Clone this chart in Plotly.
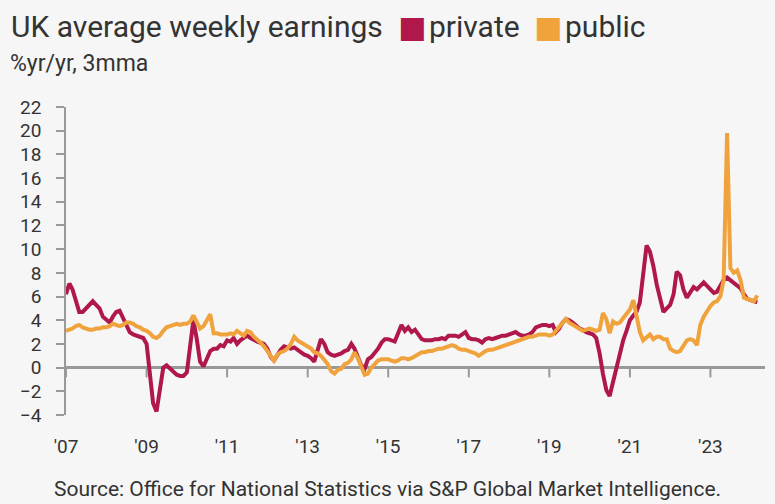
import plotly.graph_objects as go
import pandas as pd

# Monthly, Jan 2007 .. Mar 2024 (% yr/yr 3mma)
private = [
    # 2007
    6.2, 7.1, 6.6, 5.7, 4.7, 4.7, 5.0, 5.4, 5.6, 5.3, 5.0, 4.3,
    # 2008
    4.0, 3.8, 4.3, 4.7, 4.8, 4.2, 3.6, 3.0, 2.8, 2.7, 2.6, 2.5,
    # 2009
    2.0, -0.5, -3.0, -3.7, -2.0, 0.0, 0.2, -0.1, -0.4, -0.6, -0.7, -0.7,
    # 2010
    -0.4, 1.6, 4.0, 2.4, 0.5, 0.1, 0.8, 1.4, 1.6, 1.6, 1.9, 1.8,
    # 2011
    2.3, 2.2, 2.5, 2.0, 2.3, 2.5, 2.7, 2.5, 2.3, 2.2, 2.1, 2.0,
    # 2012
    1.6, 0.9, 0.6, 1.1, 1.5, 1.8, 1.7, 1.6, 1.7, 1.5, 1.3, 1.1,
    # 2013
    1.0, 0.8, 0.5, 1.6, 2.4, 2.0, 1.3, 1.1, 1.0, 1.1, 1.2, 1.4,
    # 2014
    1.5, 2.0, 1.6, 0.9, 0.2, -0.1, 0.7, 0.9, 1.2, 1.6, 2.1, 2.4,
    # 2015
    2.4, 2.3, 2.2, 2.9, 3.6, 3.1, 3.4, 3.0, 3.2, 2.8, 2.4, 2.3,
    # 2016
    2.3, 2.3, 2.4, 2.4, 2.5, 2.4, 2.7, 2.7, 2.7, 2.6, 2.8, 3.0,
    # 2017
    2.5, 2.4, 2.4, 2.3, 2.1, 2.4, 2.5, 2.4, 2.5, 2.6, 2.7, 2.7,
    # 2018
    2.8, 2.9, 3.0, 2.8, 2.7, 2.7, 2.8, 3.0, 3.4, 3.5, 3.6, 3.6,
    # 2019
    3.5, 3.6, 3.0, 3.3, 3.8, 4.1, 4.0, 3.8, 3.5, 3.3, 3.2, 3.0,
    # 2020
    2.9, 2.8, 2.5, 1.2, -0.5, -1.9, -2.4, -1.2, 0.1, 1.4, 2.3, 3.1,
    # 2021
    4.0, 4.4, 4.7, 5.5, 8.0, 10.3, 9.8, 8.6, 7.0, 5.8, 4.7, 5.0,
    # 2022
    5.3, 6.2, 8.1, 7.8, 6.6, 5.9, 6.4, 6.8, 6.6, 6.9, 7.2, 6.9,
    # 2023
    6.6, 6.3, 6.4, 7.0, 7.4, 7.6, 7.4, 7.2, 7.0, 6.7, 6.2, 5.8,
    # 2024
    5.7, 5.6, 5.5,
]

public = [
    # 2007
    3.1, 3.2, 3.3, 3.5, 3.6, 3.4, 3.3, 3.2, 3.2, 3.3, 3.3, 3.4,
    # 2008
    3.4, 3.5, 3.7, 3.6, 3.5, 3.6, 3.8, 3.8, 3.7, 3.5, 3.4, 3.2,
    # 2009
    3.1, 2.9, 2.6, 2.5, 2.7, 3.1, 3.4, 3.5, 3.6, 3.7, 3.6, 3.7,
    # 2010
    3.7, 3.9, 4.4, 3.9, 3.3, 3.5, 4.0, 4.5, 2.9, 2.9, 2.8, 2.8,
    # 2011
    2.8, 2.9, 2.8, 3.1, 2.9, 2.7, 3.1, 3.0, 2.6, 2.4, 2.1, 1.8,
    # 2012
    1.4, 0.9, 0.6, 1.1, 1.3, 1.4, 1.6, 2.0, 2.6, 2.3, 2.1, 2.0,
    # 2013
    1.8, 1.6, 1.3, 1.2, 1.0, 0.7, 0.3, -0.3, -0.5, -0.2, -0.1, 0.3,
    # 2014
    0.4, 0.7, 1.3, 0.8, 0.0, -0.6, -0.5, 0.0, 0.3, 0.6, 0.7, 0.7,
    # 2015
    0.7, 0.6, 0.5, 0.6, 0.8, 0.8, 0.7, 0.8, 1.0, 1.1, 1.3, 1.3,
    # 2016
    1.4, 1.4, 1.5, 1.6, 1.6, 1.7, 1.8, 1.9, 1.8, 1.6, 1.5, 1.5,
    # 2017
    1.4, 1.3, 1.2, 1.0, 1.2, 1.4, 1.5, 1.5, 1.6, 1.7, 1.8, 1.9,
    # 2018
    2.0, 2.1, 2.2, 2.3, 2.4, 2.5, 2.6, 2.6, 2.7, 2.8, 2.8, 2.8,
    # 2019
    2.7, 2.8, 3.1, 3.4, 3.8, 4.1, 3.8, 3.6, 3.4, 3.2, 3.1, 3.2,
    # 2020
    3.3, 3.2, 3.1, 3.2, 4.6, 4.1, 2.9, 3.9, 3.7, 3.8, 4.2, 4.5,
    # 2021
    4.9, 5.7, 4.4, 3.0, 2.3, 2.6, 2.8, 2.4, 2.6, 2.6, 2.4, 2.4,
    # 2022
    1.6, 1.4, 1.3, 1.4, 1.9, 2.3, 2.4, 2.3, 1.9, 3.6, 4.3, 4.8,
    # 2023
    5.2, 5.5, 5.6, 6.0, 7.4, 19.8, 8.4, 8.0, 8.2, 7.4, 5.9, 5.8,
    # 2024
    5.7, 5.6, 6.1,
]

dates = pd.date_range("2007-01-01", periods=len(private), freq="MS")

tick_years = ["2007", "2009", "2011", "2013", "2015", "2017", "2019", "2021", "2023"]
tick_labels = ["'07", "'09", "'11", "'13", "'15", "'17", "'19", "'21", "'23"]
y_ticks = list(range(-4, 23, 2))
series_names = ["private", "public"]

C_PRIV = "#b0174b"
C_PUB = "#f0a33c"
BG = "#f6f6f6"
TXT = "#333333"
AX = "#999999"
FONT = "Roboto"

tickvals = [f"{y}-01-01" for y in tick_years]
xrange = ["2007-01-01", "2024-05-10"]

fig = go.Figure()
# small tick marks hanging just below the zero line at each labelled year
fig.add_trace(go.Scatter(
    x=tickvals, y=[-0.35] * len(tickvals), mode="markers",
    marker=dict(symbol="line-ns", size=8, color=AX,
                line=dict(color=AX, width=2)),
    showlegend=False, hoverinfo="skip"))
fig.add_trace(go.Scatter(x=dates, y=private, mode="lines", name=series_names[0],
                         line=dict(color=C_PRIV, width=4), showlegend=False))
fig.add_trace(go.Scatter(x=dates, y=public, mode="lines", name=series_names[1],
                         line=dict(color=C_PUB, width=4), showlegend=False))

fig.update_layout(
    width=775, height=504,
    margin=dict(l=66, r=10, t=107, b=89),
    paper_bgcolor=BG, plot_bgcolor=BG,
    font=dict(family=FONT, color=TXT, size=16),
    xaxis=dict(type="date", range=xrange, tickvals=tickvals,
               ticktext=tick_labels,
               showgrid=False, zeroline=False, showline=False, ticks="",
               ticklabelstandoff=18, tickfont=dict(size=19, color=TXT)),
    yaxis=dict(range=[-4, 22], tickvals=y_ticks, showgrid=False,
               zeroline=True, zerolinecolor=AX, zerolinewidth=2.5,
               showline=True, linecolor=AX, linewidth=1.5,
               ticks="outside", ticklen=8, tickwidth=1.5, tickcolor=AX,
               ticklabelstandoff=11, tickfont=dict(size=19, color=TXT)),
)


def px(xp):
    return (xp - 66) / 699


def py(yp):
    return (415 - yp) / 308


fig.add_annotation(
    xref="paper", yref="paper", x=px(9), y=py(26),
    xanchor="left", yanchor="middle", showarrow=False,
    text="UK average weekly earnings",
    font=dict(size=30, color=TXT, family=FONT))
for name, col, xs, xt in [(series_names[0], C_PRIV, 412, 427),
                          (series_names[1], C_PUB, 548, 563)]:
    fig.add_annotation(
        xref="paper", yref="paper", x=px(xs), y=py(27),
        xanchor="center", yanchor="middle", showarrow=False,
        text="■", font=dict(size=30, color=col, family="DejaVu Sans"))
    fig.add_annotation(
        xref="paper", yref="paper", x=px(xt), y=py(26),
        xanchor="left", yanchor="middle", showarrow=False,
        text=name, font=dict(size=30, color=TXT, family=FONT))
fig.add_annotation(
    xref="paper", yref="paper", x=px(8), y=py(63),
    xanchor="left", yanchor="middle", showarrow=False,
    text="%yr/yr, 3mma", font=dict(size=23, color=TXT, family=FONT))
fig.add_annotation(
    xref="paper", yref="paper", x=px(387.5), y=py(489),
    xanchor="center", yanchor="middle", showarrow=False,
    text="Source: Office for National Statistics via S&P Global Market Intelligence.",
    font=dict(size=21, color=TXT, family=FONT))

fig.write_html("out.html")
